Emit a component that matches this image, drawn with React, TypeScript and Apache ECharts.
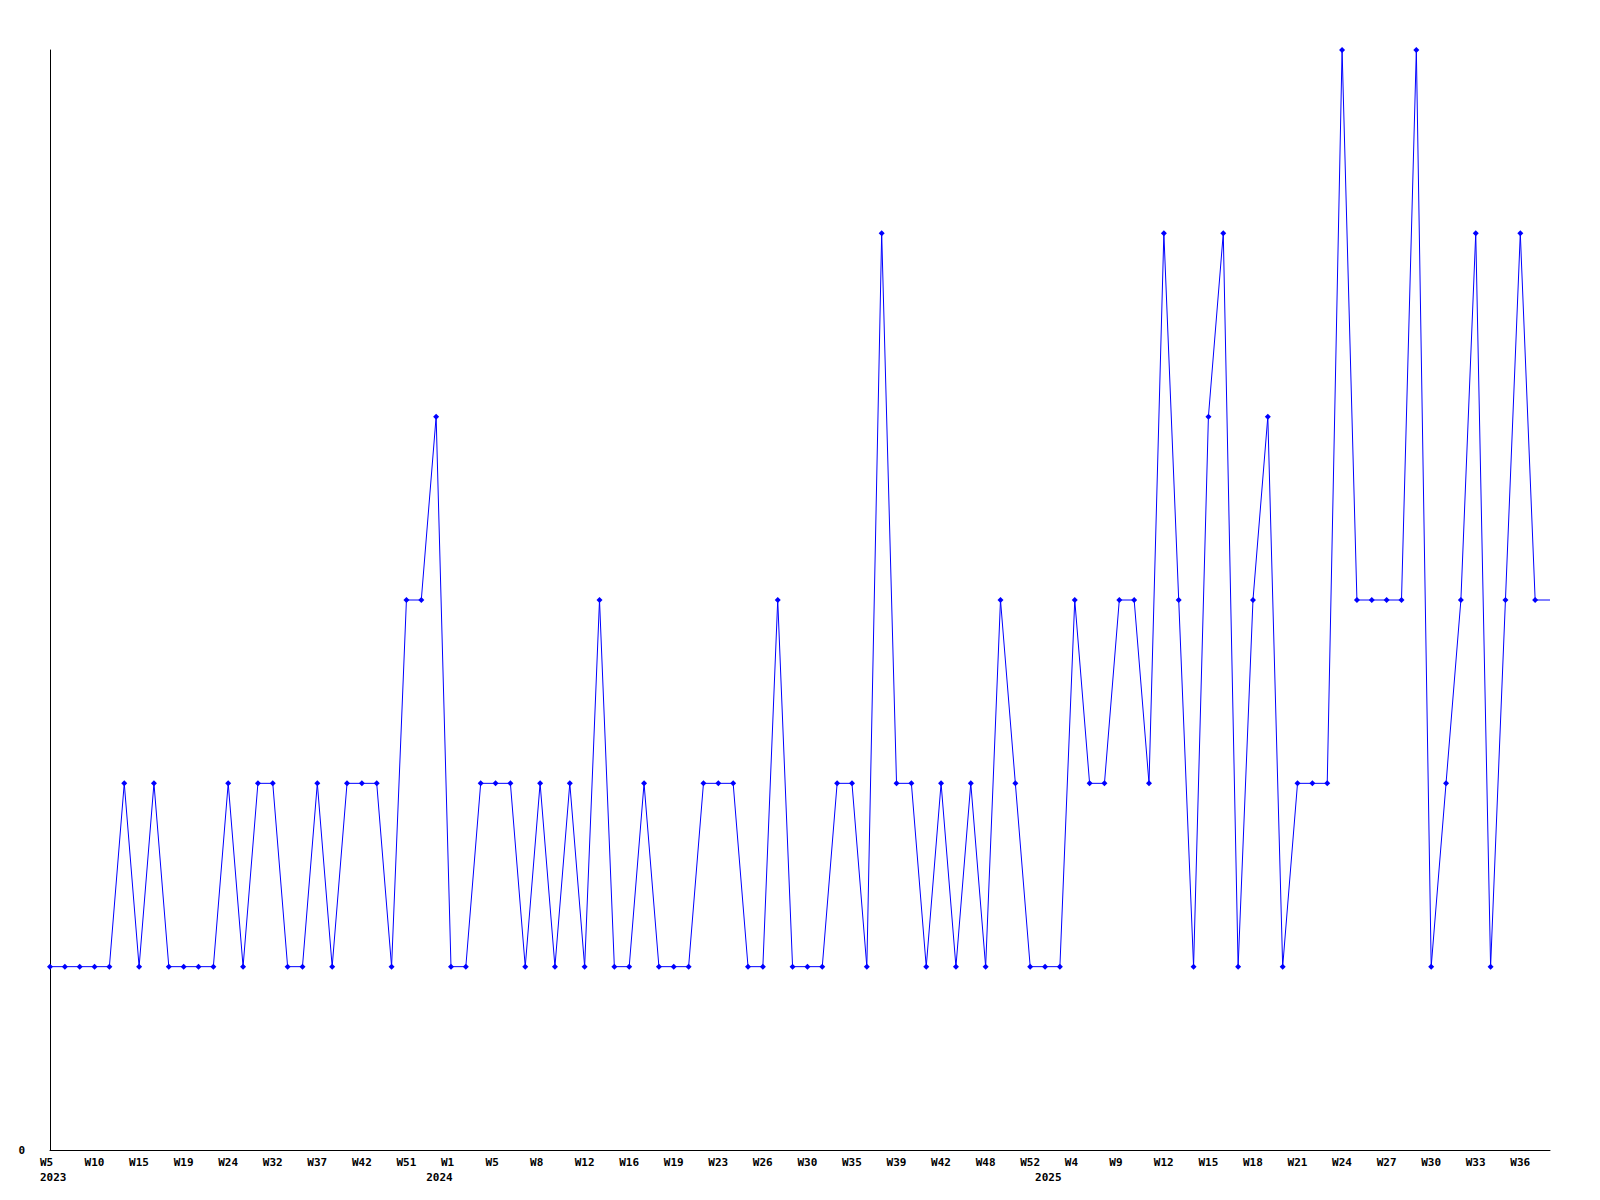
import React, { useEffect, useRef } from "react";
import * as echarts from "echarts";

// Week labels shown under the axis (every third point)
const tickLabels = [
  "W5", "W10", "W15", "W19", "W24", "W32", "W37", "W42", "W51",
  "W1", "W5", "W8", "W12", "W16", "W19", "W23", "W26", "W30", "W35", "W39", "W42", "W48", "W52",
  "W4", "W9", "W12", "W15", "W18", "W21", "W24", "W27", "W30", "W33", "W36",
];
// Year labels and the point index where each year starts
const yearLabels = ["2023", "2024", "2025"];
const yearStartIndex = [0, 26, 67];

// Series values, one per point
const values = [
  1, 1, 1, 1, 1, 2, 1, 2, 1, 1,
  1, 1, 2, 1, 2, 2, 1, 1, 2, 1,
  2, 2, 2, 1, 3, 3, 4, 1, 1, 2,
  2, 2, 1, 2, 1, 2, 1, 3, 1, 1,
  2, 1, 1, 1, 2, 2, 2, 1, 1, 3,
  1, 1, 1, 2, 2, 1, 5, 2, 2, 1,
  2, 1, 2, 1, 3, 2, 1, 1, 1, 3,
  2, 2, 3, 3, 2, 5, 3, 1, 4, 5,
  1, 3, 4, 1, 2, 2, 2, 6, 3, 3,
  3, 3, 6, 1, 2, 3, 5, 1, 3, 5,
  3,
];
// the line continues flat to the axis end (no marker there)
const tailValue = 3;

const categories = [...values.map((_, i) => `P${i}`), "P_end"];

const FONT = "DejaVu Sans Mono";

export default function App() {
  const ref = useRef<HTMLDivElement>(null);
  useEffect(() => {
    if (!ref.current) return;
    const chart = echarts.init(ref.current, undefined, { renderer: "svg" });
    const seriesData: any[] = [
      ...values,
      { value: tailValue, symbol: "none" },
    ];
    chart.setOption({
      animation: false,
      backgroundColor: "#ffffff",
      grid: { left: 50, right: 50, top: 50, bottom: 50, containLabel: false },
      xAxis: {
        type: "category",
        data: categories,
        boundaryGap: false,
        axisLine: { show: true, onZero: false, lineStyle: { color: "#000000", width: 1 } },
        axisTick: { show: false },
        splitLine: { show: false },
        axisLabel: {
          interval: (i: number) => i % 3 === 0 || yearStartIndex.includes(i),
          formatter: (_v: string, index: number) => {
            const tick = index % 3 === 0 ? tickLabels[index / 3] ?? "" : "";
            const y = yearStartIndex.indexOf(index);
            return y >= 0 ? tick + "\n" + yearLabels[y] : tick;
          },
          align: "left",
          padding: [0, 0, 0, -10],
          margin: 5,
          lineHeight: 15,
          fontFamily: FONT,
          fontWeight: "bold",
          fontSize: 11,
          color: "#000000",
        },
      },
      yAxis: {
        type: "value",
        min: 0,
        max: 6,
        interval: 6,
        axisLine: { show: true, lineStyle: { color: "#000000", width: 1 } },
        axisTick: { show: false },
        splitLine: { show: false },
        axisLabel: {
          formatter: (v: number) => (v === 0 ? "0" : ""),
          margin: 25,
          fontFamily: FONT,
          fontWeight: "bold",
          fontSize: 11,
          color: "#000000",
        },
      },
      series: [
        {
          type: "line",
          data: seriesData,
          showAllSymbol: true,
          symbol: "diamond",
          symbolSize: 6,
          lineStyle: { color: "#0000ff", width: 1 },
          itemStyle: { color: "#0000ff" },
        },
      ],
    });
    return () => chart.dispose();
  }, []);
  return (
    <div
      ref={ref}
      style={{ position: "absolute", left: 0, top: 0, width: 1600, height: 1200 }}
    />
  );
}
